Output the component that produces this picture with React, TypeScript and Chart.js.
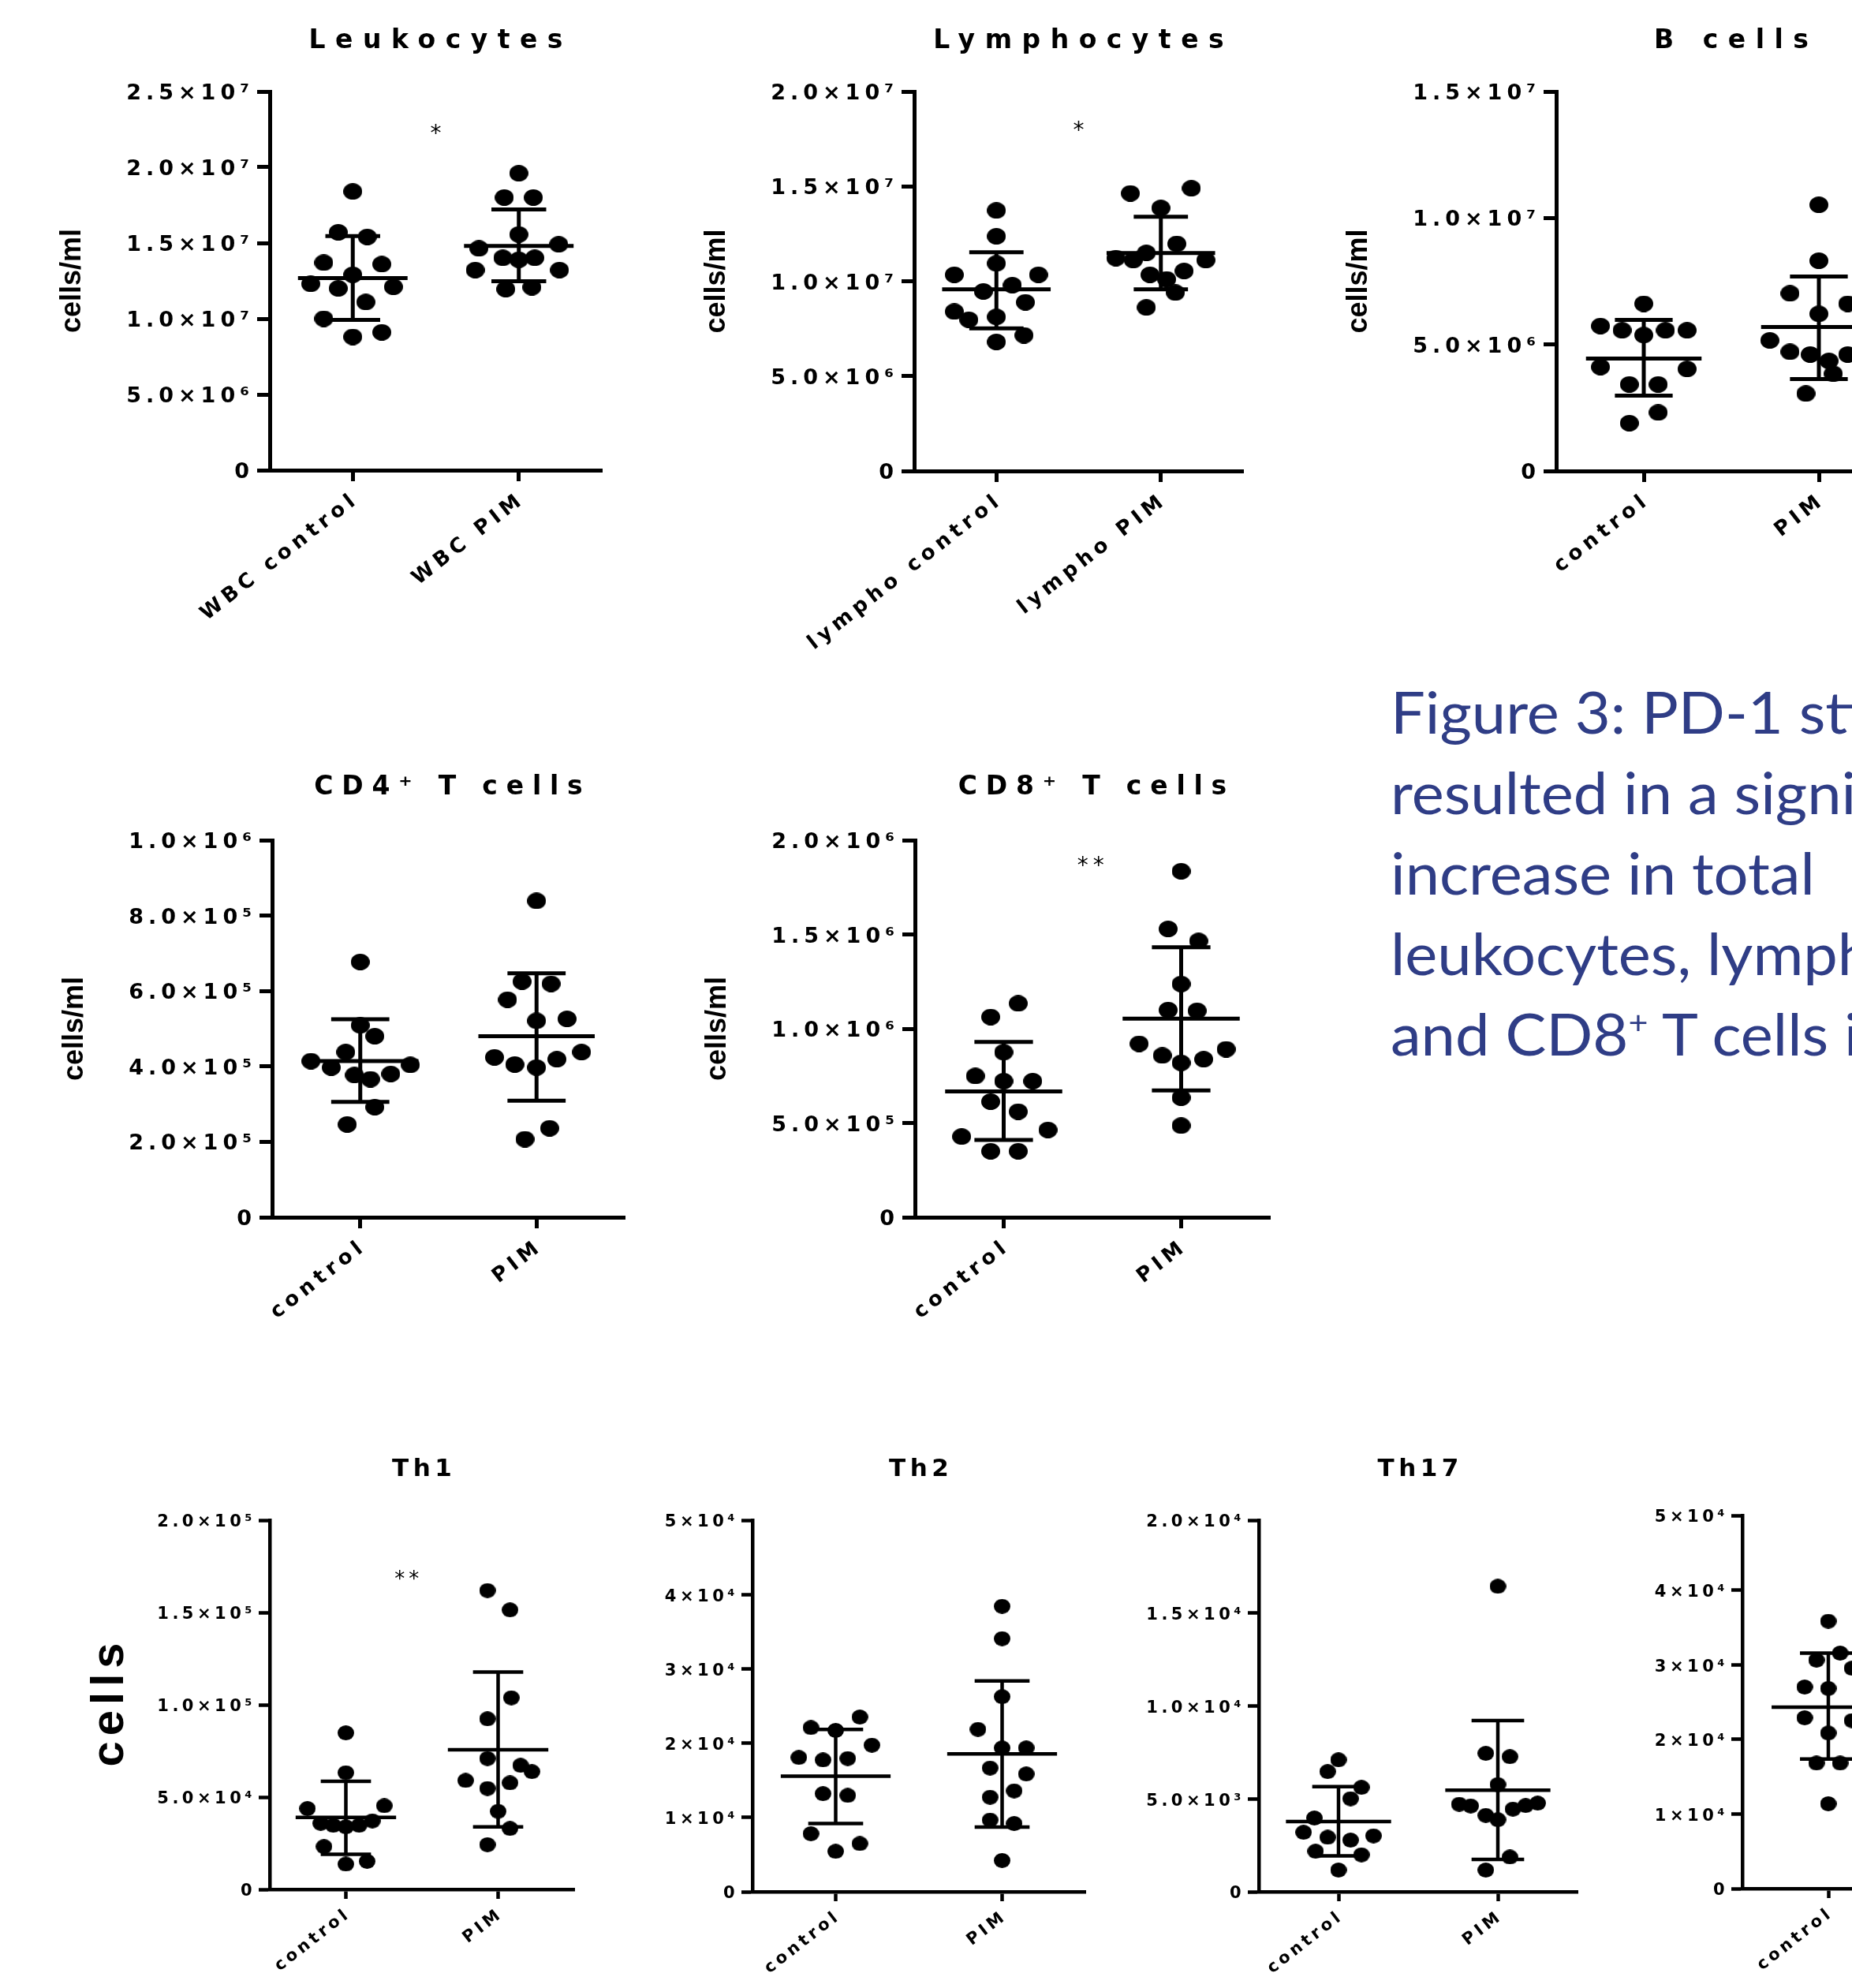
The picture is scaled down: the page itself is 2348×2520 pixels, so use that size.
import React, { useEffect, useRef } from 'react';
import { Chart, registerables } from 'chart.js';

Chart.register(...registerables);

const FONT = '"Liberation Sans", Arial, Helvetica, sans-serif';
const WIDE = '"DejaVu Sans", "Liberation Sans", Arial, sans-serif';

// ---------------- DATA ----------------
const groupsWbc = ['WBC control', 'WBC PIM'];
const groupsLympho = ['lympho control', 'lympho PIM'];
const groupsPlain = ['control', 'PIM'];

// Leukocytes
const leukoControl = [1.84e7, 1.57e7, 1.54e7, 1.37e7, 1.36e7, 1.29e7, 1.23e7, 1.2e7, 1.21e7, 1.11e7, 1.0e7, 0.88e7, 0.91e7];
const leukoControlJitter = [0, -1, 1, -2, 2, 0, -2.9, -1, 2.8, 0.9, -2, 0, 2];
const leukoPim = [1.96e7, 1.8e7, 1.8e7, 1.556e7, 1.464e7, 1.491e7, 1.402e7, 1.389e7, 1.402e7, 1.321e7, 1.321e7, 1.195e7, 1.208e7];
const leukoPimJitter = [0, -1, 1, 0, -2.75, 2.75, -1.1, 0, 1.1, -3, 2.8, -0.9, 0.9];
const leukoMean = [1.268e7, 1.481e7];
const leukoSdHigh = [1.545e7, 1.721e7];
const leukoSdLow = [0.992e7, 1.248e7];
const leukoTicks = [0, 5e6, 1e7, 1.5e7, 2e7, 2.5e7];
const leukoTickLabels = ['0', '5.0×10⁶', '1.0×10⁷', '1.5×10⁷', '2.0×10⁷', '2.5×10⁷'];
const leukoStar = { text: '*', x: 1.0, y: 2.265e7 };

// Lymphocytes
const lymphoControl = [1.373e7, 1.237e7, 1.094e7, 1.034e7, 1.034e7, 0.979e7, 0.946e7, 0.889e7, 0.84e7, 0.797e7, 0.812e7, 0.68e7, 0.715e7];
const lymphoControlJitter = [0, 0, 0, -2.9, 2.9, 1.1, -0.9, 2, -2.9, -1.9, 0, 0, 1.9];
const lymphoPim = [1.463e7, 1.49e7, 1.386e7, 1.197e7, 1.122e7, 1.111e7, 1.149e7, 1.111e7, 1.034e7, 1.01e7, 1.054e7, 0.94e7, 0.862e7];
const lymphoPimJitter = [-2.1, 2.1, 0, 1.1, -3.1, -1.9, -1, 3.1, -0.75, 0.4, 1.6, 1, -1];
const lymphoMean = [0.957e7, 1.149e7];
const lymphoSdHigh = [1.153e7, 1.34e7];
const lymphoSdLow = [0.752e7, 0.957e7];
const lymphoTicks = [0, 5e6, 1e7, 1.5e7, 2e7];
const lymphoTickLabels = ['0', '5.0×10⁶', '1.0×10⁷', '1.5×10⁷', '2.0×10⁷'];
const lymphoStar = { text: '*', x: 1.0, y: 1.83e7 };

// B cells
const bControl = [6.61e6, 5.73e6, 5.56e6, 5.37e6, 5.56e6, 5.56e6, 4.11e6, 4.03e6, 3.42e6, 3.42e6, 2.31e6, 1.89e6];
const bControlJitter = [0, -3, -1.5, 0, 1.5, 3, -3, 3, -1, 1, 1, -1];
const bPim = [10.52e6, 8.31e6, 7.02e6, 6.61e6, 6.21e6, 5.16e6, 4.71e6, 4.6e6, 4.6e6, 4.35e6, 3.84e6, 3.06e6];
const bPimJitter = [0, 0, -2, 2, 0, -3.4, -2, -0.6, 2, 0.7, 1, -0.9];
const bMean = [4.44e6, 5.69e6];
const bSdHigh = [5.97e6, 7.69e6];
const bSdLow = [2.98e6, 3.63e6];
const bTicks = [0, 5e6, 1e7, 1.5e7];
const bTickLabels = ['0', '5.0×10⁶', '1.0×10⁷', '1.5×10⁷'];

// CD4+ T cells
const cd4Control = [6.77e5, 5.09e5, 4.8e5, 4.38e5, 4.14e5, 4.04e5, 3.97e5, 3.77e5, 3.66e5, 3.8e5, 2.92e5, 2.46e5];
const cd4ControlJitter = [0, 0, 1, -1, -3.4, 3.45, -2, -0.4, 0.7, 2.1, 1, -0.9];
const cd4Pim = [8.39e5, 6.25e5, 6.19e5, 5.77e5, 5.21e5, 5.26e5, 4.24e5, 4.38e5, 4.05e5, 3.97e5, 4.19e5, 2.36e5, 2.07e5];
const cd4PimJitter = [0, -1, 1, -2, 0, 2.1, -2.9, 3.1, -1.5, 0, 1.4, 0.9, -0.8];
const cd4Mean = [4.14e5, 4.8e5];
const cd4SdHigh = [5.25e5, 6.47e5];
const cd4SdLow = [3.06e5, 3.09e5];
const cd4Ticks = [0, 2e5, 4e5, 6e5, 8e5, 1e6];
const cd4TickLabels = ['0', '2.0×10⁵', '4.0×10⁵', '6.0×10⁵', '8.0×10⁵', '1.0×10⁶'];

// CD8+ T cells
const cd8Control = [1.134e6, 1.062e6, 0.875e6, 0.749e6, 0.722e6, 0.722e6, 0.613e6, 0.56e6, 0.428e6, 0.463e6, 0.35e6, 0.35e6];
const cd8ControlJitter = [1, -0.9, 0, -1.95, 0, 2, -0.9, 1, -2.9, 3.05, -0.9, 1];
const cd8Pim = [1.835e6, 1.529e6, 1.465e6, 1.237e6, 1.099e6, 1.095e6, 0.92e6, 0.891e6, 0.858e6, 0.819e6, 0.838e6, 0.634e6, 0.486e6];
const cd8PimJitter = [0, -0.9, 1.2, 0, -0.9, 1.1, -2.9, 3.1, -1.3, 0, 1.55, 0, 0];
const cd8Mean = [0.667e6, 1.053e6];
const cd8SdHigh = [0.93e6, 1.432e6];
const cd8SdLow = [0.41e6, 0.673e6];
const cd8Ticks = [0, 5e5, 1e6, 1.5e6, 2e6];
const cd8TickLabels = ['0', '5.0×10⁵', '1.0×10⁶', '1.5×10⁶', '2.0×10⁶'];
const cd8Star = { text: '**', x: 0.99, y: 1.9e6 };

// Th1
const th1Control = [0.848e5, 0.632e5, 0.438e5, 0.453e5, 0.358e5, 0.347e5, 0.339e5, 0.347e5, 0.371e5, 0.232e5, 0.137e5, 0.152e5];
const th1ControlJitter = [0, 0, -2.9, 2.9, -1.9, -0.95, 0, 1, 2, -1.65, 0, 1.6];
const th1Pim = [1.619e5, 1.514e5, 1.038e5, 0.924e5, 0.709e5, 0.672e5, 0.638e5, 0.59e5, 0.547e5, 0.577e5, 0.423e5, 0.33e5, 0.242e5];
const th1PimJitter = [-0.8, 0.9, 1, -0.8, -0.8, 1.7, 2.55, -2.45, -0.8, 0.9, 0, 0.9, -0.8];
const th1Mean = [0.39e5, 0.756e5];
const th1SdHigh = [0.585e5, 1.177e5];
const th1SdLow = [0.19e5, 0.339e5];
const th1Ticks = [0, 5e4, 1e5, 1.5e5, 2e5];
const th1TickLabels = ['0', '5.0×10⁴', '1.0×10⁵', '1.5×10⁵', '2.0×10⁵'];
const th1Star = { text: '**', x: 0.9, y: 1.714e5 };

// Th2
const th2Control = [2.351e4, 2.209e4, 2.171e4, 1.973e4, 1.807e4, 1.774e4, 1.793e4, 1.32e4, 1.296e4, 0.781e4, 0.648e4, 0.544e4];
const th2ControlJitter = [1.9, -1.95, 0, 2.85, -2.9, -1, 0.95, -1, 0.95, -1.95, 1.9, 0];
const th2Pim = [3.841e4, 3.406e4, 2.625e4, 2.185e4, 1.935e4, 1.935e4, 1.665e4, 1.585e4, 1.358e4, 1.272e4, 0.965e4, 0.918e4, 0.421e4];
const th2PimJitter = [0, 0, 0, -1.9, 0, 1.9, -0.95, 1.9, 0.95, -0.95, -0.95, 0.95, 0];
const th2Mean = [1.556e4, 1.854e4];
const th2SdHigh = [2.185e4, 2.838e4];
const th2SdLow = [0.918e4, 0.87e4];
const th2Ticks = [0, 1e4, 2e4, 3e4, 4e4, 5e4];
const th2TickLabels = ['0', '1×10⁴', '2×10⁴', '3×10⁴', '4×10⁴', '5×10⁴'];

// Th17
const th17Control = [7.1e3, 6.47e3, 5.62e3, 5.01e3, 3.97e3, 3.2e3, 2.93e3, 2.78e3, 3.01e3, 2.18e3, 1.99e3, 1.17e3];
const th17ControlJitter = [0, -0.9, 1.9, 1, -2, -2.9, -0.9, 1, 2.9, -1.9, 1.9, 0];
const th17Pim = [16.44e3, 7.45e3, 7.27e3, 5.77e3, 4.71e3, 4.62e3, 4.11e3, 3.88e3, 4.45e3, 4.64e3, 4.77e3, 1.87e3, 1.17e3];
const th17PimJitter = [0, -1, 1, 0, -3.2, -2.25, -1, 0, 1.25, 2.3, 3.3, 1, -1];
const th17Mean = [3.78e3, 5.47e3];
const th17SdHigh = [5.66e3, 9.21e3];
const th17SdLow = [1.93e3, 1.74e3];
const th17Ticks = [0, 5e3, 1e4, 1.5e4, 2e4];
const th17TickLabels = ['0', '5.0×10³', '1.0×10⁴', '1.5×10⁴', '2.0×10⁴'];

// fourth Th panel (only its control group is visible)
const th4Control = [3.583e4, 3.062e4, 3.156e4, 2.953e4, 2.701e4, 2.682e4, 2.289e4, 2.251e4, 2.085e4, 1.682e4, 1.682e4, 1.137e4];
const th4ControlJitter = [0, -1, 1, 2, -2, 0, -2, 2, 0, -1, 1, 0];
const th4Mean = [2.431e4];
const th4SdHigh = [3.156e4];
const th4SdLow = [1.735e4];
const th4Ticks = [0, 1e4, 2e4, 3e4, 4e4, 5e4];
const th4TickLabels = ['0', '1×10⁴', '2×10⁴', '3×10⁴', '4×10⁴', '5×10⁴'];

const captionLines = ['Figure 3: PD-1 stimulation', 'resulted in a significant', 'increase in total', 'leukocytes, lymphocytes,'];
const captionLast = ['and CD8', '+', ' T cells in'];

// ---------------- STYLES / LAYOUT ----------------
const STYLE_TOP = {
  tickFont: 27, xFont: 26, spacing: 6, titleFont: 33, titleSpacing: 12.5, titleGap: 55,
  yTitleFont: 36, yTitleSpacing: 0, yTitleOffset: 250,
  dotW: 24, dotH: 21, lineW: 5, yTickLen: 16, xTickLen: 14, starFont: 28, starSpacing: 6,
};
const STYLE_MID = { ...STYLE_TOP, titleSpacing: 10.8, titleGap: 58 };
const STYLE_BOT = {
  tickFont: 21, xFont: 21, spacing: 4.5, titleFont: 31, titleSpacing: 5.5, titleGap: 56,
  yTitleFont: 58, yTitleSpacing: 7, yTitleOffset: 202,
  dotW: 21, dotH: 19, lineW: 4.5, yTickLen: 14, xTickLen: 12, starFont: 26, starSpacing: 5,
};

const ML = 330, MT = 100, MR = 40, MB = 260;
const ROT = 38;

const PANELS = [
  { key: 'leuko', title: 'Leukocytes', yTitle: 'cells/ml', st: STYLE_TOP, plot: [342, 116, 763, 596], slotPx: 18.4,
    groups: groupsWbc, control: leukoControl, controlJ: leukoControlJitter, pim: leukoPim, pimJ: leukoPimJitter,
    mean: leukoMean, hi: leukoSdHigh, lo: leukoSdLow, ticks: leukoTicks, tickLabels: leukoTickLabels, star: leukoStar },
  { key: 'lympho', title: 'Lymphocytes', yTitle: 'cells/ml', st: STYLE_TOP, plot: [1159, 116, 1576, 597], slotPx: 18.4,
    groups: groupsLympho, control: lymphoControl, controlJ: lymphoControlJitter, pim: lymphoPim, pimJ: lymphoPimJitter,
    mean: lymphoMean, hi: lymphoSdHigh, lo: lymphoSdLow, ticks: lymphoTicks, tickLabels: lymphoTickLabels, star: lymphoStar },
  { key: 'b', title: 'B cells', yTitle: 'cells/ml', st: STYLE_TOP, plot: [1973, 116, 2417, 597], slotPx: 18.3,
    groups: groupsPlain, control: bControl, controlJ: bControlJitter, pim: bPim, pimJ: bPimJitter,
    mean: bMean, hi: bSdHigh, lo: bSdLow, ticks: bTicks, tickLabels: bTickLabels, star: null },
  { key: 'cd4', title: 'CD4⁺ T cells', yTitle: 'cells/ml', st: STYLE_MID, plot: [345, 1065, 792, 1543], slotPx: 18.4,
    groups: groupsPlain, control: cd4Control, controlJ: cd4ControlJitter, pim: cd4Pim, pimJ: cd4PimJitter,
    mean: cd4Mean, hi: cd4SdHigh, lo: cd4SdLow, ticks: cd4Ticks, tickLabels: cd4TickLabels, star: null },
  { key: 'cd8', title: 'CD8⁺ T cells', yTitle: 'cells/ml', st: STYLE_MID, plot: [1160, 1065, 1610, 1543], slotPx: 18.4,
    groups: groupsPlain, control: cd8Control, controlJ: cd8ControlJitter, pim: cd8Pim, pimJ: cd8PimJitter,
    mean: cd8Mean, hi: cd8SdHigh, lo: cd8SdLow, ticks: cd8Ticks, tickLabels: cd8TickLabels, star: cd8Star },
  { key: 'th1', title: 'Th1', yTitle: 'cells', st: STYLE_BOT, plot: [342, 1927, 728, 2395], slotPx: 16.8,
    groups: groupsPlain, control: th1Control, controlJ: th1ControlJitter, pim: th1Pim, pimJ: th1PimJitter,
    mean: th1Mean, hi: th1SdHigh, lo: th1SdLow, ticks: th1Ticks, tickLabels: th1TickLabels, star: th1Star },
  { key: 'th2', title: 'Th2', yTitle: '', st: STYLE_BOT, plot: [954, 1927, 1376, 2398], slotPx: 16.1,
    groups: groupsPlain, control: th2Control, controlJ: th2ControlJitter, pim: th2Pim, pimJ: th2PimJitter,
    mean: th2Mean, hi: th2SdHigh, lo: th2SdLow, ticks: th2Ticks, tickLabels: th2TickLabels, star: null },
  { key: 'th17', title: 'Th17', yTitle: '', st: STYLE_BOT, plot: [1596, 1927, 2000, 2398], slotPx: 15.3,
    groups: groupsPlain, control: th17Control, controlJ: th17ControlJitter, pim: th17Pim, pimJ: th17PimJitter,
    mean: th17Mean, hi: th17SdHigh, lo: th17SdLow, ticks: th17Ticks, tickLabels: th17TickLabels, star: null },
  { key: 'th4', title: '', yTitle: '', st: STYLE_BOT, plot: [2209, 1921, 2645, 2394], slotPx: 15,
    groups: groupsPlain, control: th4Control, controlJ: th4ControlJitter, pim: null, pimJ: null,
    mean: th4Mean, hi: th4SdHigh, lo: th4SdLow, ticks: th4Ticks, tickLabels: th4TickLabels, star: null },
];

function makeDot(w: number, h: number) {
  const c = document.createElement('canvas');
  c.width = w;
  c.height = h;
  const g = c.getContext('2d')!;
  g.fillStyle = '#000';
  g.beginPath();
  g.ellipse(w / 2, h / 2, w / 2, h / 2, 0, 0, Math.PI * 2);
  g.fill();
  return c;
}

function Panel({ p }: { p: any }) {
  const ref = useRef<HTMLCanvasElement>(null);
  const [pl, pt, pr, pb] = p.plot;
  const W = ML + (pr - pl) + MR;
  const H = MT + (pb - pt) + MB;
  useEffect(() => {
    const st = p.st;
    const catPx = (pr - pl) / 2;
    const slot = p.slotPx / catPx;
    const dot = makeDot(st.dotW, st.dotH);
    const centers = [0.5, 1.5];
    const mk = (vals: number[], jit: number[], c: number) => vals.map((v, i) => ({ x: c + jit[i] * slot, y: v }));
    const datasets: any[] = [
      { label: p.groups[0], data: mk(p.control, p.controlJ, centers[0]), pointStyle: dot, pointRadius: st.dotW / 2,
        backgroundColor: '#000', borderWidth: 0, showLine: false, clip: false },
    ];
    if (p.pim) {
      datasets.push({ label: p.groups[1], data: mk(p.pim, p.pimJ, centers[1]), pointStyle: dot, pointRadius: st.dotW / 2,
        backgroundColor: '#000', borderWidth: 0, showLine: false, clip: false });
    }
    const yMax = p.ticks[p.ticks.length - 1];
    const rad = (ROT * Math.PI) / 180;
    const deco = {
      id: 'deco',
      beforeDraw(chart: any) {
        chart.ctx.letterSpacing = `${st.spacing}px`;
      },
      afterDatasetsDraw(chart: any) {
        const ctx = chart.ctx;
        const xs = chart.scales.x;
        const ys = chart.scales.y;
        ctx.save();
        ctx.strokeStyle = '#000';
        ctx.lineWidth = st.lineW;
        ctx.lineCap = 'butt';
        const line = (x1: number, y1: number, x2: number, y2: number) => {
          ctx.beginPath();
          ctx.moveTo(x1, y1);
          ctx.lineTo(x2, y2);
          ctx.stroke();
        };
        p.mean.forEach((m: number, i: number) => {
          const c = centers[i];
          const xm = xs.getPixelForValue(c);
          const xl = xs.getPixelForValue(c - 0.33);
          const xr = xs.getPixelForValue(c + 0.33);
          const cl = xs.getPixelForValue(c - 0.165);
          const cr = xs.getPixelForValue(c + 0.165);
          const ym = ys.getPixelForValue(m);
          const yh = ys.getPixelForValue(p.hi[i]);
          const yl = ys.getPixelForValue(p.lo[i]);
          line(xm, yh, xm, yl);
          line(cl, yh, cr, yh);
          line(cl, yl, cr, yl);
          line(xl, ym, xr, ym);
        });
        ctx.restore();
      },
      afterDraw(chart: any) {
        const ctx = chart.ctx;
        const a = chart.chartArea;
        ctx.save();
        ctx.fillStyle = '#000';
        if (p.title) {
          ctx.font = `bold ${st.titleFont}px ${WIDE}`;
          ctx.letterSpacing = `${st.titleSpacing}px`;
          ctx.textAlign = 'center';
          ctx.textBaseline = 'alphabetic';
          ctx.fillText(p.title, (a.left + a.right) / 2 + st.titleSpacing / 2, a.top - st.titleGap);
        }
        if (p.yTitle) {
          ctx.save();
          ctx.font = `bold ${st.yTitleFont}px ${FONT}`;
          ctx.letterSpacing = `${st.yTitleSpacing}px`;
          ctx.textAlign = 'center';
          ctx.textBaseline = 'middle';
          ctx.translate(a.left - st.yTitleOffset, (a.top + a.bottom) / 2);
          ctx.rotate(-Math.PI / 2);
          ctx.fillText(p.yTitle, st.yTitleSpacing / 2, 0);
          ctx.restore();
        }
        if (p.star) {
          const sp = st.starSpacing;
          ctx.font = `${st.starFont}px ${WIDE}`;
          ctx.letterSpacing = `${sp}px`;
          ctx.textAlign = 'center';
          ctx.textBaseline = 'alphabetic';
          const sx = chart.scales.x.getPixelForValue(p.star.x) + sp / 2;
          const sy = chart.scales.y.getPixelForValue(p.star.y) + 0.6 * st.starFont;
          ctx.fillText(p.star.text, sx, sy);
        }
        ctx.restore();
      },
    };
    const chart = new Chart(ref.current!, {
      type: 'scatter',
      data: { datasets },
      options: {
        animation: false,
        responsive: false,
        devicePixelRatio: 1,
        events: [],
        layout: { padding: { left: 0, top: MT, right: MR, bottom: 0 } },
        plugins: { legend: { display: false }, tooltip: { enabled: false }, title: { display: false } },
        scales: {
          x: {
            type: 'linear',
            min: 0,
            max: 2,
            afterBuildTicks: (s: any) => { s.ticks = centers.map((v) => ({ value: v })); },
            afterFit: (s: any) => { s.height = MB; },
            grid: { display: true, drawOnChartArea: false, drawTicks: true, tickLength: st.xTickLen,
              tickWidth: st.lineW, tickColor: '#000', color: '#000' },
            border: { display: true, color: '#000', width: st.lineW },
            ticks: {
              autoSkip: false, maxRotation: ROT, minRotation: ROT,
              padding: 4 + st.spacing * Math.sin(rad),
              labelOffset: st.spacing * Math.cos(rad),
              color: '#000',
              font: { family: WIDE, size: st.xFont, weight: 'bold' },
              callback: (_v: any, i: number) => p.groups[i],
            },
          },
          y: {
            type: 'linear',
            min: 0,
            max: yMax,
            afterBuildTicks: (s: any) => { s.ticks = p.ticks.map((v: number) => ({ value: v })); },
            afterFit: (s: any) => { s.width = ML; },
            grid: { display: true, drawOnChartArea: false, drawTicks: true, tickLength: st.yTickLen,
              tickWidth: st.lineW, tickColor: '#000', color: '#000' },
            border: { display: true, color: '#000', width: st.lineW },
            ticks: {
              autoSkip: false, padding: 4, labelOffset: 3, color: '#000',
              font: { family: WIDE, size: st.tickFont, weight: 'bold' },
              callback: (_v: any, i: number) => p.tickLabels[i],
            },
          },
        },
      } as any,
      plugins: [deco],
    });
    return () => chart.destroy();
  }, []);
  return (
    <canvas
      ref={ref}
      width={W}
      height={H}
      style={{ position: 'absolute', left: pl - ML, top: pt - MT, width: W, height: H }}
    />
  );
}

export default function App() {
  return (
    <div style={{ position: 'absolute', left: 0, top: 0, width: 2348, height: 2520, overflow: 'hidden', background: '#fff' }}>
      {PANELS.map((p) => (
        <Panel key={p.key} p={p} />
      ))}
      <div
        style={{
          position: 'absolute', left: 1763, top: 851, fontFamily: 'Lato, "Open Sans", sans-serif', fontSize: 74,
          lineHeight: '102px', color: 'rgb(47,61,134)', whiteSpace: 'nowrap',
          transform: 'scaleX(1.05)', transformOrigin: '0 0',
        }}
      >
        {captionLines.map((l) => (
          <div key={l}>{l}</div>
        ))}
        <div>
          {captionLast[0]}
          <span style={{ fontSize: 41, position: 'relative', top: -27 }}>{captionLast[1]}</span>
          {captionLast[2]}
        </div>
      </div>
    </div>
  );
}
